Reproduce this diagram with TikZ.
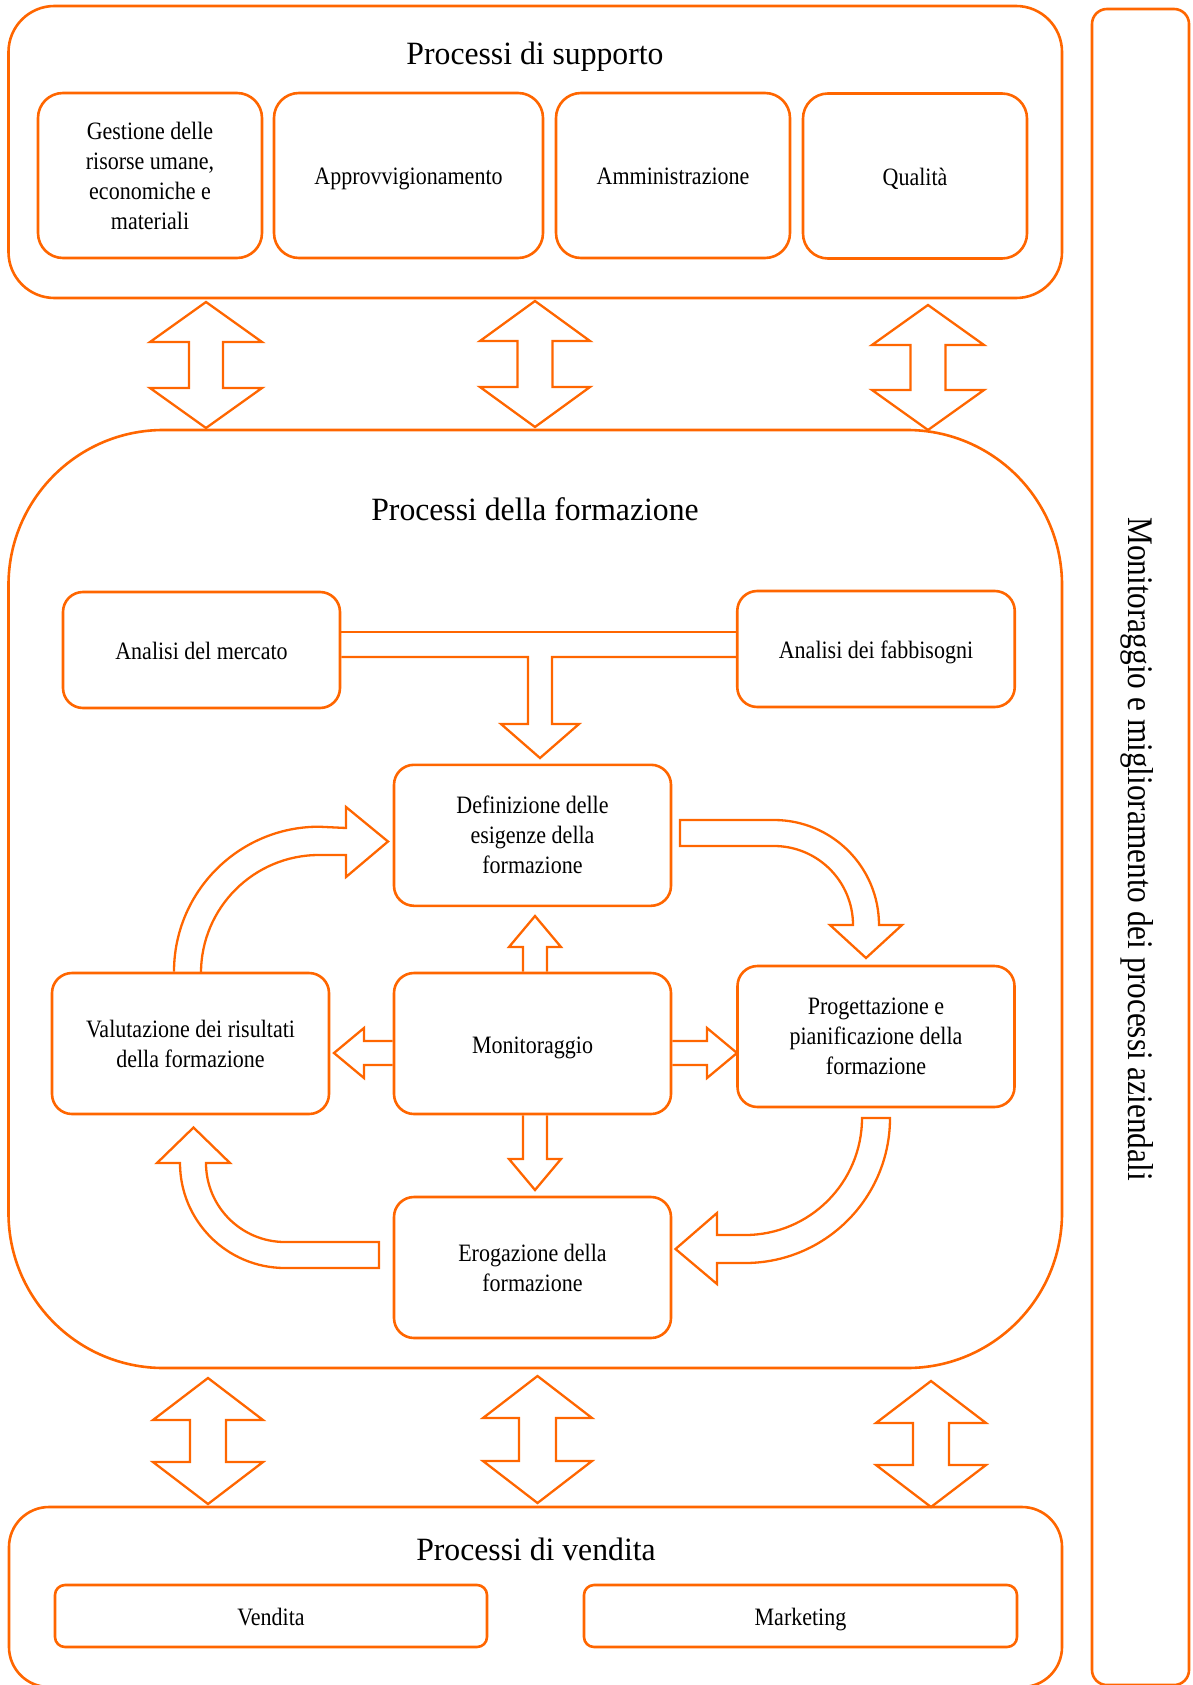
\documentclass[tikz,border=0pt]{standalone}
\usepackage{fontspec}
\setmainfont{Liberation Serif}
\newfontfamily\boxfont{Liberation Serif}[FakeStretch=0.88]
\newfontfamily\titlefont{Liberation Serif}[FakeStretch=0.975]
\newfontfamily\sidefont{Liberation Serif}[FakeStretch=0.87]
\definecolor{orng}{HTML}{FF6600}
\tikzset{
  frame/.style={draw=orng, line width=2.6pt, rectangle, inner sep=0pt},
  box/.style={frame, align=center, font=\boxfont\fontsize{25}{30}\selectfont},
  oneline/.style={text height=19pt, text depth=0pt},
  blk/.style={draw=orng, line width=2.3pt, line join=miter},
  ttl/.style={font=\titlefont\fontsize{32.5}{38}\selectfont, anchor=base, inner sep=0pt},
}
\newcommand\myVDA[6]{\draw[blk] (#1,-#2) -- (#1+#5,-#2-#4) -- (#1+#6,-#2-#4) -- (#1+#6,-#3+#4) -- (#1+#5,-#3+#4) -- (#1,-#3) -- (#1-#5,-#3+#4) -- (#1-#6,-#3+#4) -- (#1-#6,-#2-#4) -- (#1-#5,-#2-#4) -- cycle;}
\begin{document}
\begin{tikzpicture}[x=1pt,y=1pt]
\useasboundingbox (0,0) rectangle (1192,-1685);

% ---------- support processes ----------
\node[frame, rounded corners=46pt, minimum width=1053.5pt, minimum height=292pt] (sup) at (535.25,-152) {};
\node[ttl] (tsup) at (535,-65) {Processi di supporto};
\node[box, rounded corners=25pt, minimum width=224pt, minimum height=165pt] (ges) at (150,-175.5) {Gestione delle\\risorse umane,\\economiche e\\materiali};
\node[box, oneline, rounded corners=25pt, minimum width=269pt, minimum height=165pt] (app) at (408.5,-175.5) {Approvvigionamento};
\node[box, oneline, rounded corners=25pt, minimum width=234pt, minimum height=165pt] (amm) at (673,-175.5) {Amministrazione};
\node[box, oneline, rounded corners=25pt, minimum width=224pt, minimum height=165pt] (qua) at (915,-176) {Qualità};

% ---------- training processes ----------
\node[frame, rounded corners=155pt, minimum width=1053.5pt, minimum height=938pt] (form) at (535.25,-899) {};
\node[ttl] (tform) at (535,-520) {Processi della formazione};
\node[box, oneline, rounded corners=20pt, minimum width=277pt, minimum height=116pt] (mer) at (201.5,-650) {Analisi del mercato};
\node[box, oneline, rounded corners=20pt, minimum width=277.5pt, minimum height=116pt] (fab) at (876,-649) {Analisi dei fabbisogni};
\node[box, rounded corners=20pt, minimum width=277pt, minimum height=141pt] (def) at (532.5,-835.3) {Definizione delle\\esigenze della\\formazione};
\node[box, rounded corners=20pt, minimum width=277pt, minimum height=141pt] (val) at (190.5,-1043.5) {Valutazione dei risultati\\della formazione};
\node[box, oneline, rounded corners=20pt, minimum width=277pt, minimum height=141pt] (mon) at (532.5,-1043.5) {Monitoraggio};
\node[box, rounded corners=20pt, minimum width=277pt, minimum height=141pt] (pro) at (876,-1036.5) {Progettazione e\\pianificazione della\\formazione};
\node[box, rounded corners=20pt, minimum width=277pt, minimum height=141pt] (ero) at (532.5,-1267.5) {Erogazione della\\formazione};

% ---------- sales processes ----------
\node[frame, rounded corners=40pt, minimum width=1053pt, minimum height=180pt] (ven) at (535.5,-1597) {};
\node[ttl] (tven) at (536,-1560) {Processi di vendita};
\node[box, oneline, rounded corners=10pt, minimum width=432pt, minimum height=62pt] (vbox) at (271,-1616) {Vendita};
\node[box, oneline, rounded corners=10pt, minimum width=433pt, minimum height=62pt] (mbox) at (800.5,-1616) {Marketing};

% ---------- side bar ----------
\node[frame, rounded corners=15pt, minimum width=97pt, minimum height=1676pt] (bar) at (1140.5,-847) {};
\node[font=\sidefont\fontsize{36}{40}\selectfont, rotate=-90, anchor=base, inner sep=0pt] (tbar) at (1128,-849) {Monitoraggio e miglioramento dei processi aziendali};

% ---------- double arrows ----------
\myVDA{206}{302}{428}{40}{56}{17}
\myVDA{535}{301}{427}{40}{55}{17.5}
\myVDA{928}{305}{430}{40}{56}{17.5}
\myVDA{208}{1378}{1504}{42}{55}{18}
\myVDA{537.5}{1376}{1503}{42}{54.5}{18.5}
\myVDA{931}{1381}{1507}{42}{55}{18}

% ---------- T arrow from analyses to definition ----------
\draw[blk] (mer.east |- 0,-632) -- (fab.west |- 0,-632);
\draw[blk] (mer.east |- 0,-657) -- (528,-657) -- (528,-724) -- (501,-724) -- (540,-758) -- (579,-724) -- (552,-724) -- (552,-657) -- (fab.west |- 0,-657);

% ---------- arrows out of Monitoraggio ----------
\draw[blk] (523,0 |- mon.north) -- (523,-947) -- (509,-947) -- (535,-916) -- (561,-947) -- (547,-947) -- (547,0 |- mon.north);
\draw[blk] (523,0 |- mon.south) -- (523,-1159) -- (509,-1159) -- (535,-1190) -- (561,-1159) -- (547,-1159) -- (547,0 |- mon.south);
\draw[blk] (mon.west |- 0,-1041) -- (364,-1041) -- (364,-1028) -- (334,-1053) -- (364,-1078) -- (364,-1065) -- (mon.west |- 0,-1065);
\draw[blk] (mon.east |- 0,-1041) -- (707,-1041) -- (707,-1028) -- (737,-1053) -- (707,-1078) -- (707,-1065) -- (mon.east |- 0,-1065);

% ---------- curved arrows of the cycle ----------
\draw[blk] (174,0 |- val.north) arc[start angle=180, end angle=90, radius=145] -- (346,-828) -- (346,-807) -- (388,-841.5) -- (346,-877) -- (346,-855) -- (319,-855) arc[start angle=90, end angle=180, radius=118];
\draw[blk] (680,-846) -- (680,-820) -- (774,-820) arc[start angle=90, end angle=0, radius=105] -- (902,-925) -- (866,-958) -- (830,-925) -- (853,-925) arc[start angle=0, end angle=90, radius=79] -- cycle;
\draw[blk] (862,-1118) -- (890,-1118) arc[start angle=0, end angle=-90, radius=145] -- (717,-1263) -- (717,-1284) -- (675.5,-1249) -- (717,-1213) -- (717,-1235) -- (745,-1235) arc[start angle=-90, end angle=0, radius=117] -- cycle;
\draw[blk] (379,-1242) -- (379,-1268) -- (285,-1268) arc[start angle=-90, end angle=-180, radius=105] -- (157,-1163) -- (193.5,-1127.5) -- (230,-1163) -- (206,-1163) arc[start angle=180, end angle=270, radius=79] -- cycle;
\end{tikzpicture}
\end{document}
